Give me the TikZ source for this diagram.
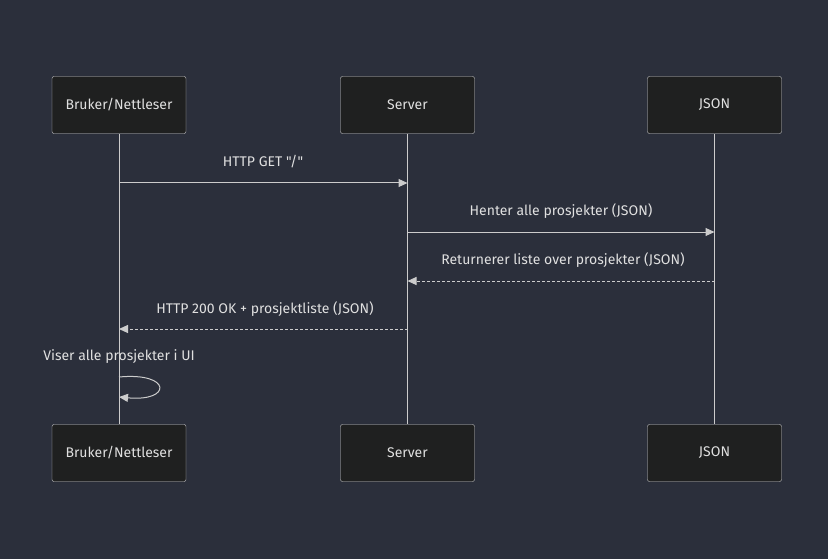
\documentclass[tikz,border=0pt]{standalone}
\usepackage{fontspec}
\setmainfont{Fira Sans}[Ligatures=TeXOff]
\usepackage{xcolor}
\usepackage{tikz}
\usetikzlibrary{arrows.meta, positioning, calc}
\definecolor{bgcol}{HTML}{2B2F3B}
\definecolor{boxcol}{HTML}{1F2020}
\definecolor{linecol}{HTML}{CCCCCC}
\definecolor{textcol}{HTML}{E0E0E0}

\begin{document}
\begin{tikzpicture}[
    x=1pt, y=-1pt,
    actor/.style={rectangle, draw=linecol, fill=boxcol, rounded corners=2pt, minimum width=134pt, minimum height=57pt, align=center, font=\fontsize{14}{16}\selectfont, text=textcol},
    msg/.style={font=\fontsize{14}{16}\selectfont, text=textcol},
    arrow/.style={-{Triangle[length=9pt,width=8pt]}, draw=linecol, line width=1pt},
    reply/.style={arrow, dash pattern=on 3pt off 2pt},
    life/.style={draw=linecol, line width=1pt}
]
    \fill[bgcol] (0,0) rectangle (828,559);
    % Actors
    \node[actor] (user) at (119,105) {Bruker/Nettleser};
    \node[actor] (server) at (407.5,105) {Server};
    \node[actor] (json) at (714.5,105) {JSON};
    \node[actor] (userB) at (119,453) {Bruker/Nettleser};
    \node[actor] (serverB) at (407.5,453) {Server};
    \node[actor] (jsonB) at (714.5,453) {JSON};

    % Lifelines
    \draw[life] (user) -- (userB);
    \draw[life] (server) -- (serverB);
    \draw[life] (json) -- (jsonB);

    % Message points
    \coordinate (u1) at (119,183);   \coordinate (s1) at (407.5,183);
    \coordinate (s2) at (407.5,232); \coordinate (j2) at (714.5,232);
    \coordinate (j3) at (714.5,281); \coordinate (s3) at (407.5,281);
    \coordinate (s4) at (407.5,329); \coordinate (u4) at (119,329);
    \coordinate (u5) at (119,377);   \coordinate (u6) at (119,397);

    % Messages
    \draw[arrow] (u1) -- (s1);
    \draw[arrow] (s2) -- (j2);
    \draw[reply] (j3) -- (s3);
    \draw[reply] (s4) -- (u4);
    \draw[arrow] (u5) .. controls (172,372) and (172,402) .. (u6);

    % Labels
    \node[msg] (l1) at (263,161.5) {HTTP GET "/"};
    \node[msg] (l2) at (561,211.5) {Henter alle prosjekter (JSON)};
    \node[msg] (l3) at (563,260.5) {Returnerer liste over prosjekter (JSON)};
    \node[msg] (l4) at (265,309.5) {HTTP 200 OK + prosjektliste (JSON)};
    \node[msg] (l5) at (119,356.5) {Viser alle prosjekter i UI};
\end{tikzpicture}
\end{document}
